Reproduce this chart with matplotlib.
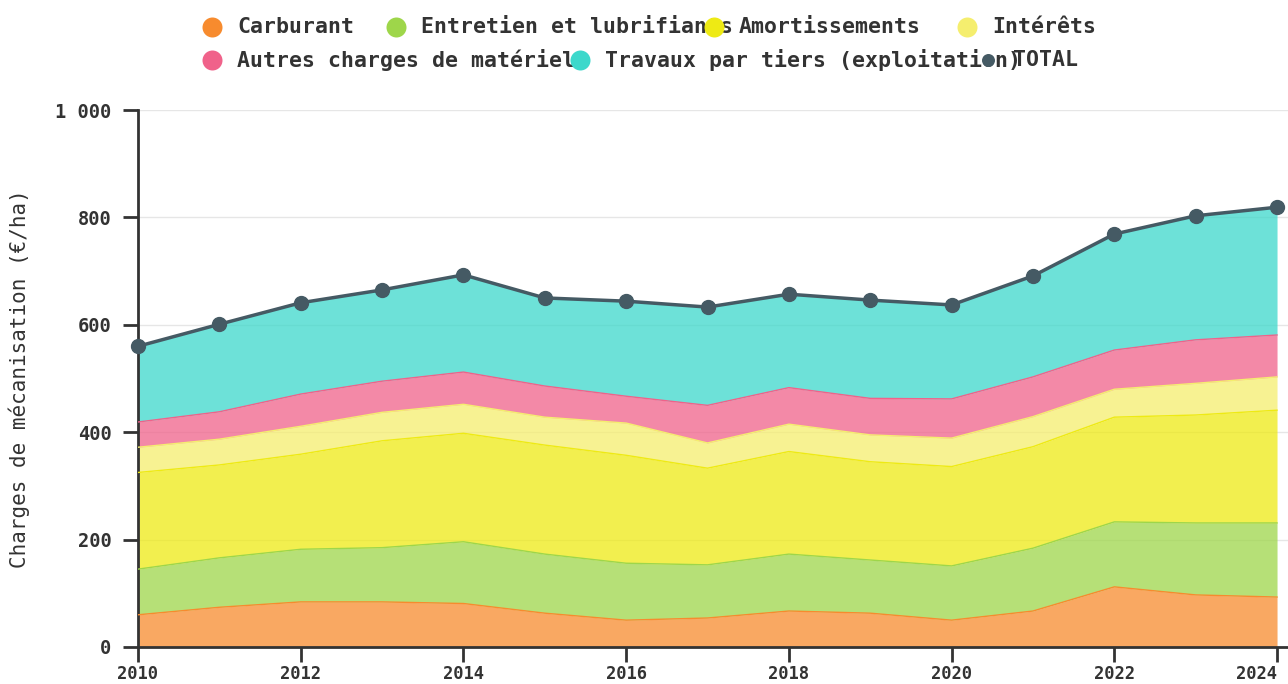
import numpy as np
import matplotlib
matplotlib.use("Agg")
import matplotlib.pyplot as plt
from matplotlib.lines import Line2D
from matplotlib.ticker import FuncFormatter

annees = [2010, 2011, 2012, 2013, 2014, 2015, 2016, 2017, 2018, 2019, 2020, 2021, 2022, 2023, 2024]
carburant = [60, 74, 84, 84, 81, 63, 50, 54, 67, 63, 50, 67, 112, 97, 93]
entretien = [85, 92, 98, 101, 115, 110, 106, 99, 106, 99, 101, 117, 121, 134, 138]
amortissements = [180, 173, 177, 199, 202, 203, 201, 180, 191, 183, 185, 189, 195, 201, 210]
interets = [47, 48, 52, 53, 54, 52, 60, 47, 51, 50, 53, 56, 52, 59, 62]
autres = [47, 51, 60, 58, 60, 58, 50, 70, 68, 68, 73, 74, 73, 81, 78]
travaux = [141, 163, 170, 170, 181, 164, 177, 183, 174, 183, 175, 188, 216, 231, 238]
total = [560, 601, 641, 665, 693, 650, 644, 633, 657, 646, 637, 691, 769, 803, 819]

noms = ["Carburant", "Entretien et lubrifiants", "Amortissements", "Intérêts",
        "Autres charges de matériel", "Travaux par tiers (exploitation)"]
couleurs = ["#F78B2E", "#9ED64A", "#EEEA14", "#F5EE6E", "#F0628A", "#3CD8CB"]
col_total = "#455A64"

plt.rcParams['font.family'] = ['DejaVu Sans Mono', 'DejaVu Sans']
plt.rcParams['font.weight'] = 'bold'

fig = plt.figure(figsize=(12.88, 6.84), dpi=100)
ax = fig.add_axes([138/1288, 1-647/684, 1-138/1288, (647-110)/684])

series = [carburant, entretien, amortissements, interets, autres, travaux]
bas = np.zeros(len(annees))
for vals, c in zip(series, couleurs):
    haut = bas + np.array(vals)
    ax.fill_between(annees, bas, haut, color=c, alpha=0.75, linewidth=0, zorder=2)
    ax.plot(annees, haut, color=c, linewidth=1, zorder=3)
    bas = haut

ax.plot(annees, total, color=col_total, linewidth=2.5, marker='o', markersize=10,
        zorder=5, clip_on=False)

ax.set_xlim(2010, 2010 + (1288-138)/81.36)
ax.set_ylim(0, 1000)
ax.set_xticks(range(2010, 2025, 2))
ax.set_yticks(range(0, 1001, 200))
ax.yaxis.set_major_formatter(FuncFormatter(lambda v, p: f"{int(v):,}".replace(",", " ")))
ax.grid(axis='y', color='#e6e6e6', linewidth=1, zorder=0)
ax.set_axisbelow(True)
for s in ['top', 'right']:
    ax.spines[s].set_visible(False)
for s in ['left', 'bottom']:
    ax.spines[s].set_color('#333333')
    ax.spines[s].set_linewidth(2)
ax.tick_params(axis='both', length=11, width=2, color='#333333', labelcolor='#333333')
ax.tick_params(axis='x', pad=2, labelsize=12.3)
ax.tick_params(axis='y', pad=8, labelsize=13.5)
derniere = ax.get_xticklabels()[-1]
derniere.set_horizontalalignment('right')
derniere.set_x(2024.1)
ax.set_ylabel("Charges de mécanisation (€/ha)", fontsize=15, color='#333333', labelpad=18)

# légende dessinée à la main (entrées qui se chevauchent comme dans l'original)
entrees = [
    (212, 27, noms[0], couleurs[0], 20),
    (396, 27, noms[1], couleurs[1], 20),
    (714, 27, noms[2], couleurs[2], 20),
    (967, 27, noms[3], couleurs[3], 20),
    (212, 60, noms[4], couleurs[4], 20),
    (580, 60, noms[5], couleurs[5], 20),
    (988, 60, "TOTAL", col_total, 13),
]
for i, (x, y, nom, c, ms) in enumerate(entrees):
    fx, fy = x/1288, 1 - y/684
    fig.add_artist(Line2D([fx], [fy], marker='o', markersize=ms*0.72, color=c,
                          markeredgewidth=0, transform=fig.transFigure, zorder=10+2*i))
    fig.text(fx + 25/1288, fy, nom, fontsize=15.5, color='#333333', va='center',
             ha='left', zorder=11+2*i)

fig.savefig("out.png", dpi=100)
